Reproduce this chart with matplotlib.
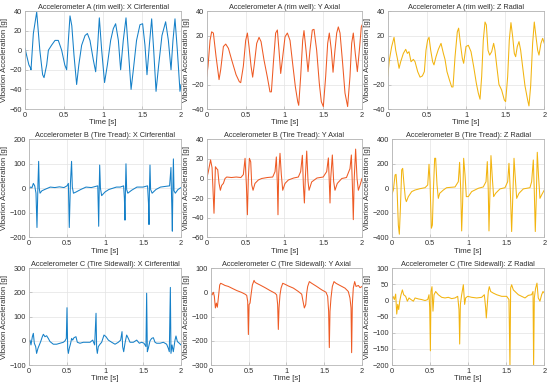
import matplotlib.pyplot as plt

# colours (MATLAB-ish default order)
BLUE = '#1580c8'
ORANGE = '#ee5a24'
YELLOW = '#f2b40f'

# ---- Accelerometer A (rim well) ----
ax_t = [0, 0.02, 0.05, 0.07, 0.077, 0.107, 0.15, 0.19, 0.226, 0.244, 0.278, 0.30, 0.34, 0.385,
        0.427, 0.47, 0.51, 0.534, 0.556, 0.577, 0.60, 0.628, 0.662, 0.69, 0.726, 0.77, 0.80,
        0.833, 0.876, 0.906, 0.932, 0.953, 0.983, 1.02, 1.056, 1.098, 1.132, 1.162, 1.197,
        1.226, 1.26, 1.295, 1.325, 1.36, 1.389, 1.43, 1.474, 1.508, 1.538, 1.564, 1.594,
        1.624, 1.65, 1.68, 1.714, 1.756, 1.803, 1.838, 1.872, 1.897, 1.923, 1.953, 1.987, 2.0]
ax_y = [2, -5, -15, -18, -20, 17, 39, 0, -25, -28, -15, 0, 5, 10,
        10, 0, -15, -20, 10, 35, 25, -5, -35, -15, 5, 15, 17,
        10, -10, -22, 5, 33, 0, -33, -15, 10, 22, 27, 10,
        -20, 10, 33, 0, -40, -20, 10, 26, 27, 5, -25, 5,
        32, 0, -42, -15, 15, 29, 10, -20, 10, 32, 0, -42, -35]

ay_t = [0, 0.017, 0.043, 0.064, 0.086, 0.12, 0.159, 0.18, 0.215, 0.245, 0.28, 0.322, 0.378,
        0.42, 0.438, 0.472, 0.502, 0.524, 0.545, 0.571, 0.592, 0.614, 0.644, 0.674, 0.70,
        0.738, 0.78, 0.815, 0.833, 0.858, 0.888, 0.91, 0.931, 0.953, 0.974, 1.009, 1.039,
        1.073, 1.107, 1.142, 1.172, 1.185, 1.21, 1.236, 1.253, 1.279, 1.305, 1.33, 1.36,
        1.382, 1.416, 1.45, 1.476, 1.502, 1.532, 1.558, 1.579, 1.605, 1.627, 1.652, 1.674,
        1.695, 1.717, 1.751, 1.781, 1.815, 1.845, 1.867, 1.888, 1.914, 1.94, 1.966, 1.991, 2.0]
ay_y = [-13.6, -5, 16, 23, 22, 3, -16, -8, 11, 13, 9.5, 0, -12,
        -17.7, -18.5, -5, 16, 22, 11, -5, -14, -3, 13.6, 18.5, 15,
        0, -13.6, -26, -26, -3, 22, 24.5, 8, -11, 0, 19, 22,
        16, -3, -22, -34, -37, -13.6, 16, 24, 8, -9.5, 8, 24.5,
        25, 8, -19, -34, -38, -13.6, 13.6, 22, 8, -10, 8, 22,
        27, 22, -3, -27, -38, -13.6, 13.6, 22, 5, -9.5, 8, 27, 28.5]

az_t = [0, 0.021, 0.051, 0.081, 0.102, 0.123, 0.145, 0.166, 0.20, 0.23, 0.251, 0.272, 0.298,
        0.328, 0.349, 0.383, 0.413, 0.443, 0.468, 0.489, 0.51, 0.528, 0.549, 0.574, 0.591,
        0.617, 0.647, 0.681, 0.711, 0.732, 0.757, 0.787, 0.817, 0.834, 0.86, 0.889, 0.906,
        0.928, 0.953, 0.97, 1.0, 1.03, 1.064, 1.098, 1.132, 1.157, 1.179, 1.20, 1.221, 1.243,
        1.26, 1.281, 1.302, 1.328, 1.353, 1.37, 1.391, 1.421, 1.455, 1.489, 1.506, 1.532,
        1.553, 1.574, 1.596, 1.617, 1.634, 1.655, 1.677, 1.698, 1.723, 1.753, 1.787, 1.804,
        1.826, 1.851, 1.872, 1.894, 1.915, 1.932, 1.957, 1.979, 2.0]
az_y = [-13.6, 0, 11, 18.5, 8, 1.4, -6.8, -1.4, 5.4, 8.7, 5.4, 6.8, -1.4,
        0.5, -1.4, -9.5, -14, -13, -9.5, 8, 16.3, 18.5, 8, -1.4, -4,
        2.7, 8.7, 13.6, 5.4, 0.5, -9.5, -16, -22, -22, 2.7, 23, 26,
        13.6, 1.4, -2.7, 11, 12, 6.8, -5.4, -19, -27, -32, -13.6, 16.3, 31,
        28.6, 8, 4, 6.8, 13.6, 8, -4, -20, -24.5, -32.6, -34, -13.6,
        16.3, 30.5, 19, 5.4, 2.7, 11, 15, 8, -5.4, -21, -32.6, -37.5,
        -21, 13.6, 31, 19, 8, 4, 13.6, 17.7, 13.6]

# ---- Accelerometer B (Tire Tread) ----
bx_t = [0, 0.02, 0.04, 0.057, 0.075, 0.092, 0.105, 0.118, 0.127, 0.135, 0.145, 0.17, 0.22,
        0.28, 0.34, 0.40, 0.46, 0.50, 0.518, 0.53, 0.545, 0.56, 0.57, 0.585, 0.62, 0.68,
        0.75, 0.82, 0.88, 0.905, 0.917, 0.924, 0.93, 0.94, 0.956, 1.0, 1.05, 1.1, 1.15, 1.2,
        1.245, 1.255, 1.263, 1.27, 1.276, 1.285, 1.30, 1.35, 1.42, 1.5, 1.56, 1.572, 1.579,
        1.585, 1.592, 1.60, 1.62, 1.67, 1.73, 1.8, 1.85, 1.868, 1.873, 1.878, 1.886, 1.893,
        1.90, 1.908, 1.925, 1.96, 2.0]
bx_y = [0, 5, 3, 20, 10, -20, -160, 20, 110, 0, -20, -10, -3,
        5, 3, 6, 3, 10, 20, -160, 20, 110, 5, -20, -15, -5,
        5, 3, 8, 10, -155, 0, 95, 0, -30, -15, -5, 0, 5, 5,
        10, -40, -130, 10, 100, -5, -20, -8, 5, 5, 10, -60, -148,
        0, 95, -5, -20, -5, 5, 8, 10, 85, 0, -60, -175, 0,
        120, -10, -20, -5, 3]

by_t = [0, 0.021, 0.05, 0.069, 0.082, 0.094, 0.103, 0.112, 0.129, 0.142, 0.159, 0.176, 0.193,
        0.215, 0.236, 0.258, 0.32, 0.38, 0.44, 0.472, 0.494, 0.511, 0.524, 0.536, 0.55, 0.567,
        0.58, 0.597, 0.622, 0.665, 0.708, 0.78, 0.85, 0.88, 0.897, 0.91, 0.918, 0.927, 0.944,
        0.961, 0.979, 1.009, 1.052, 1.12, 1.18, 1.21, 1.232, 1.245, 1.258, 1.27, 1.288, 1.305,
        1.318, 1.352, 1.42, 1.5, 1.545, 1.567, 1.58, 1.588, 1.597, 1.618, 1.635, 1.652, 1.682,
        1.74, 1.80, 1.845, 1.863, 1.876, 1.888, 1.90, 1.918, 1.936, 1.953, 1.974, 2.0]
by_y = [0, 7, 19, 11, -13, -35.5, -13, 12, 10, 9, -5, -12, -7,
        -5, 0, 1.5, 1, 1.5, 1, 4, 20.6, -6.5, -37, 0, 20.6, 17,
        -6.5, -12, -5, -1.5, 0, 1, 1.5, 7, 22, -6.5, -37, 4, 25.7,
        4, -12, -5, -1.5, 0.5, 1.5, 7, 23.7, -6.5, -25, 0, 28, -3,
        -12, -3.5, 0.5, 1.5, 7, 21, -6.5, -25, 0, 24, -3, -12, -5,
        0, 1, 10, 24, -6.5, -42, 0, 30, 0, -12, -7, 0]

bz_t = [0, 0.022, 0.044, 0.057, 0.07, 0.087, 0.10, 0.114, 0.131, 0.144, 0.162, 0.179, 0.192,
        0.218, 0.262, 0.306, 0.371, 0.437, 0.472, 0.489, 0.502, 0.52, 0.533, 0.546, 0.563,
        0.576, 0.594, 0.611, 0.629, 0.677, 0.72, 0.83, 0.873, 0.89, 0.904, 0.917, 0.93, 0.943,
        0.961, 0.978, 1.004, 1.048, 1.135, 1.2, 1.236, 1.253, 1.266, 1.275, 1.288, 1.301,
        1.319, 1.336, 1.362, 1.419, 1.485, 1.52, 1.537, 1.555, 1.572, 1.585, 1.603, 1.62,
        1.638, 1.668, 1.725, 1.812, 1.834, 1.856, 1.869, 1.882, 1.895, 1.908, 1.926, 1.943,
        1.965, 2.0]
bz_y = [-54, -14, 109, 114, 0, -300, -375, -163, 150, 163, 27, -82, -109,
        -68, -27, -14, -3, 5, 27, 196, 54, -326, -300, -27, 245,
        245, 27, -82, -41, -14, 5, 11, 54, 212, 0, -348, -109, 245,
        109, -68, -68, -27, 0, 11, 54, 218, -27, -348, -27, 267,
        82, -68, -41, -5, 5, 54, 204, -27, -353, -109, 245, 82,
        -82, -41, -5, 5, 54, 231, -27, -353, -82, 294, 82, -82,
        -54, -14]

# ---- Accelerometer C (Tire Sidewall) ----
cx_t = [0, 0.013, 0.026, 0.044, 0.057, 0.07, 0.088, 0.10, 0.118, 0.136, 0.154, 0.175, 0.189,
        0.21, 0.232, 0.254, 0.276, 0.32, 0.364, 0.408, 0.452, 0.474, 0.491, 0.50, 0.509, 0.518,
        0.53, 0.548, 0.561, 0.575, 0.592, 0.618, 0.636, 0.671, 0.715, 0.759, 0.803, 0.838,
        0.864, 0.882, 0.89, 0.899, 0.912, 0.934, 0.956, 0.987, 1.013, 1.044, 1.088, 1.132,
        1.175, 1.206, 1.224, 1.232, 1.246, 1.263, 1.285, 1.307, 1.329, 1.373, 1.417, 1.452,
        1.482, 1.513, 1.539, 1.548, 1.557, 1.57, 1.592, 1.614, 1.636, 1.658, 1.68, 1.724,
        1.768, 1.811, 1.833, 1.846, 1.86, 1.868, 1.882, 1.899, 1.921, 1.934, 1.952, 1.978, 2.0]
cx_y = [-3, 3, -17, 17, 31, -10, -24, -52, -31, -17, -3, 17, 27,
        17, 21, 10, -3, -14, -14, -10, -6, 0, 10, 137, -31, -52,
        -31, -10, 10, 3, 13, 17, -6, -10, -6, -6, -6, 3,
        -17, 114, -31, -52, -24, -14, -6, 24, 17, 3, -6, -14,
        -6, 3, 38, -24, -45, -10, 24, 10, -6, -6, 3, -10,
        -6, -10, -24, 197, -45, -31, 0, 10, 13, -6, -10, -10,
        -6, -14, -31, -45, 221, -52, -17, -45, 3, 20, -3, -10, -17]

cy_t = [0, 0.018, 0.035, 0.048, 0.062, 0.075, 0.088, 0.101, 0.119, 0.132, 0.159, 0.189, 0.233,
        0.278, 0.344, 0.41, 0.454, 0.476, 0.489, 0.498, 0.507, 0.52, 0.533, 0.551, 0.573, 0.586,
        0.608, 0.652, 0.718, 0.784, 0.85, 0.872, 0.885, 0.894, 0.903, 0.916, 0.93, 0.952,
        0.982, 1.026, 1.093, 1.159, 1.203, 1.225, 1.238, 1.256, 1.269, 1.282, 1.304, 1.335,
        1.401, 1.467, 1.524, 1.546, 1.559, 1.568, 1.577, 1.59, 1.608, 1.63, 1.656, 1.709,
        1.775, 1.819, 1.841, 1.855, 1.863, 1.872, 1.885, 1.903, 1.921, 1.952, 1.974, 2.0]
cy_y = [-7, -10, 1, -16, -64, -44, -61, -23, 31, 38, 34, 29, 25,
        18, 8, 0, -7, -12, -37, -174, -50, -44, -10, 31, 50, 42,
        38, 31, 20, 8, -3, -10, -50, -153, -64, -10, 18, 38,
        34, 27, 18, 4, -7, -44, -64, -50, -3, 25, 45, 38,
        25, 11, 1, -16, -78, -228, -78, -23, 25, 45, 38, 29,
        18, 4, -23, -64, -249, -50, 18, 45, 25, 29, 20, 25]

cz_t = [0, 0.017, 0.035, 0.052, 0.066, 0.079, 0.092, 0.105, 0.122, 0.14, 0.157, 0.183, 0.205,
        0.227, 0.253, 0.284, 0.306, 0.349, 0.393, 0.437, 0.472, 0.489, 0.498, 0.507, 0.515,
        0.528, 0.541, 0.555, 0.576, 0.611, 0.655, 0.699, 0.742, 0.786, 0.83, 0.865, 0.882,
        0.891, 0.90, 0.917, 0.939, 0.956, 0.969, 0.996, 1.048, 1.114, 1.179, 1.214, 1.231,
        1.24, 1.253, 1.266, 1.279, 1.297, 1.332, 1.376, 1.441, 1.507, 1.537, 1.55, 1.559,
        1.572, 1.594, 1.616, 1.66, 1.703, 1.747, 1.79, 1.834, 1.852, 1.86, 1.869, 1.886,
        1.904, 1.921, 1.943, 1.965, 1.983, 2.0]
cz_y = [3, 13, 3, 20, -42, -12, -28, -2, 18, 33, 18, 13, -2,
        8, 3, -2, 8, 5, 3, 0, 3, 18, -22, -156, 28,
        43, -33, 18, 28, 18, 10, 8, 10, 6, 8, 13, -28,
        -135, -12, 18, 49, -12, 8, 13, 10, 8, 10, 18, -22,
        -54, -12, 28, 43, 28, 23, 18, 13, 13, 3, -205, 39,
        49, 33, 28, 18, 13, 8, 16, 18, 28, -207, 8, 38,
        54, 8, -2, 18, 28, 23]

titles = [
    ['Accelerometer A (rim well): X Cirferential', 'Accelerometer A (rim well): Y Axial',
     'Accelerometer A (rim well): Z Radial'],
    ['Accelerometer B (Tire Tread): X Cirferential', 'Accelerometer B (Tire Tread): Y Axial',
     'Accelerometer B (Tire Tread): Z Radial'],
    ['Accelerometer C (Tire Sidewall): X Cirferential', 'Accelerometer C (Tire Sidewall): Y Axial',
     'Accelerometer C (Tire Sidewall): Z Radial'],
]
series = [
    [(ax_t, ax_y), (ay_t, ay_y), (az_t, az_y)],
    [(bx_t, bx_y), (by_t, by_y), (bz_t, bz_y)],
    [(cx_t, cx_y), (cy_t, cy_y), (cz_t, cz_y)],
]
ylims = [
    [(-60, 40, 20), (-40, 40, 20), (-40, 40, 20)],
    [(-200, 200, 100), (-60, 40, 20), (-400, 400, 200)],
    [(-100, 300, 100), (-300, 100, 100), (-200, 100, 50)],
]
colors = [BLUE, ORANGE, YELLOW]

# axes boxes in pixels: left, top, right, bottom
boxes = [
    [(25, 11, 181, 109), (206.7, 11, 362, 109), (387.7, 11, 544.3, 109)],
    [(29, 139.3, 181, 237.3), (206.7, 139.3, 362, 237.3), (391.7, 139.3, 544.3, 237.3)],
    [(29, 268.3, 181, 365), (210.7, 268.3, 362, 365), (391.7, 268.3, 544.3, 365)],
]

W, H = 550, 390
plt.rcParams['font.family'] = ['Liberation Sans', 'DejaVu Sans']
fig = plt.figure(figsize=(W / 100, H / 100), dpi=100)

TXT = '#303030'
for r in range(3):
    for c in range(3):
        l, t, rr, b = boxes[r][c]
        ax = fig.add_axes([l / W, 1 - b / H, (rr - l) / W, (b - t) / H])
        tt, yy = series[r][c]
        ax.plot(tt, yy, color=colors[c], lw=0.75)
        lo, hi, st = ylims[r][c]
        ax.set_ylim(lo, hi)
        ax.set_yticks(range(lo, hi + 1, st))
        ax.set_xlim(0, 2)
        ax.set_xticks([0, 0.5, 1, 1.5, 2])
        ax.set_xticklabels(['0', '0.5', '1', '1.5', '2'])
        ax.grid(True, color='#e3e3e3', lw=0.5)
        ax.set_axisbelow(True)
        for s in ax.spines.values():
            s.set_color('#b5b5b5')
            s.set_linewidth(0.6)
        ax.tick_params(direction='in', length=2, width=0.5, colors='#b5b5b5',
                       labelcolor=TXT, labelsize=5.3, pad=2)
        ax.set_title(titles[r][c], fontsize=5.3, color=TXT, pad=1.5)
        ax.set_xlabel('Time [s]', fontsize=5.6, color=TXT, labelpad=0.5)
        ax.set_ylabel('Vibarion Acceleration [g]', fontsize=5.6, color=TXT, labelpad=1)

fig.savefig('out.png', dpi=100)
